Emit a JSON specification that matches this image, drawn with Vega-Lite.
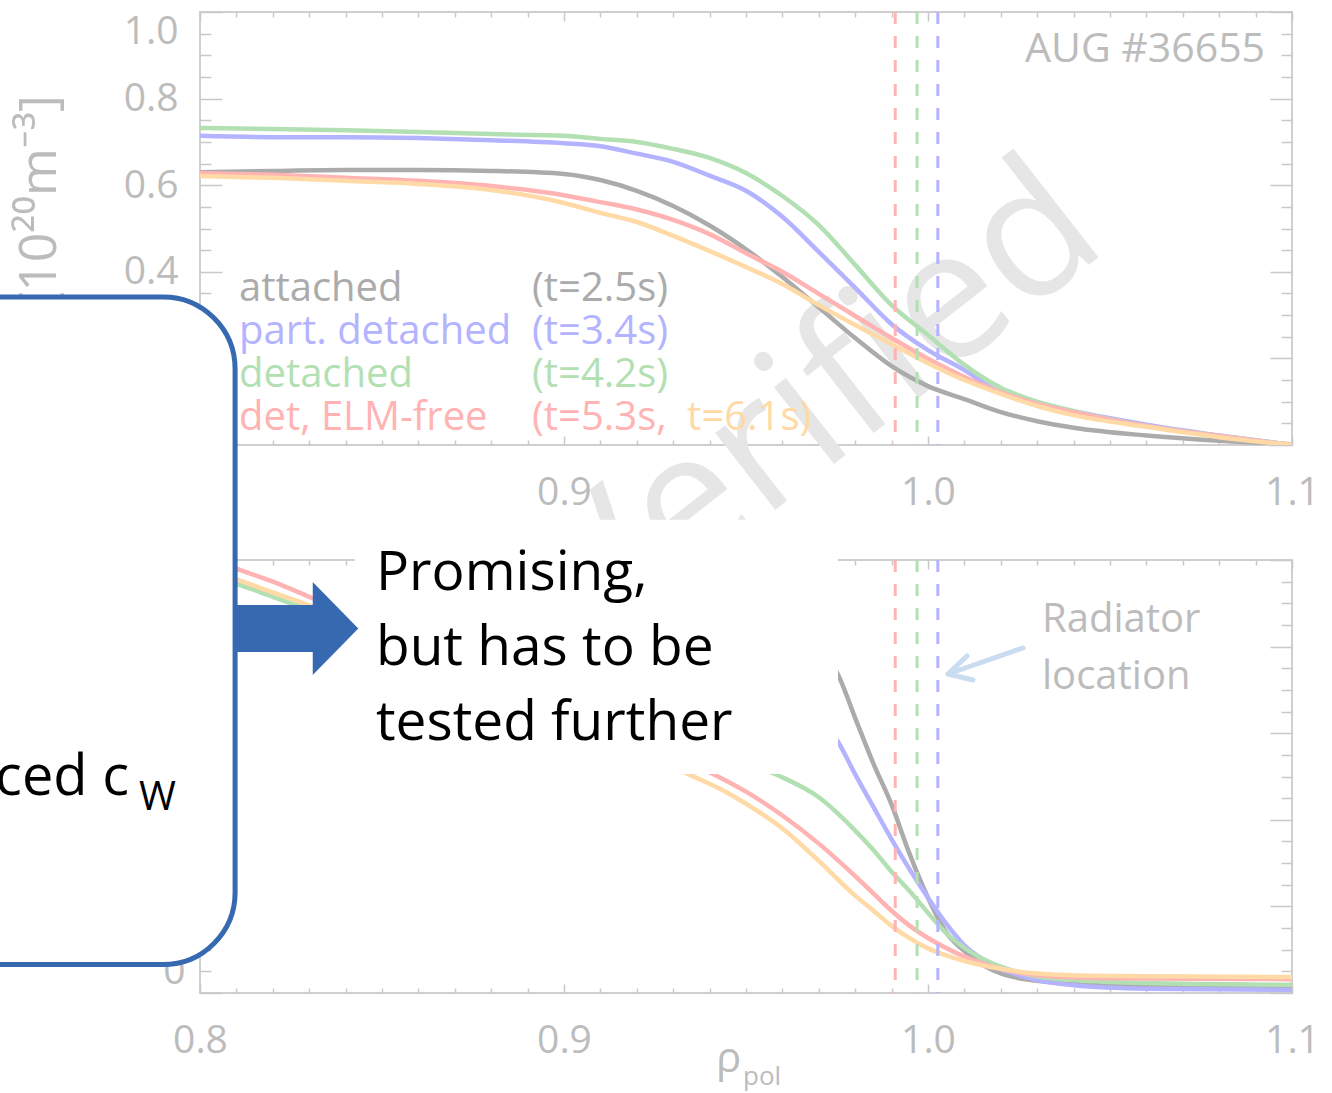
{
  "$schema": "https://vega.github.io/schema/vega-lite/v6.json",
  "autosize": {"type": "none"},
  "padding": {"left": 200, "top": 12, "right": 1132, "bottom": 1081},
  "background": "white",
  "spacing": 115,
  "bounds": "flush",
  "resolve": {"scale": {"x": "independent", "y": "independent", "color": "independent"}, "axis": {"x": "independent", "y": "independent"}},
  "config": {
    "view": {"stroke": "#cfcfcf", "strokeWidth": 2},
    "axis": {"grid": false, "domain": false, "zindex": 0, "labelFont": "Open Sans", "labelColor": "#bcbcbc", "labelFontSize": 39}
  },
  "datasets": {
    "topCurves": [
      {"s":"gray","x":0.80,"y":0.630},{"s":"gray","x":0.82,"y":0.633},{"s":"gray","x":0.84,"y":0.635},{"s":"gray","x":0.86,"y":0.635},{"s":"gray","x":0.88,"y":0.633},{"s":"gray","x":0.90,"y":0.626},{"s":"gray","x":0.91,"y":0.612},{"s":"gray","x":0.92,"y":0.587},{"s":"gray","x":0.93,"y":0.552},{"s":"gray","x":0.94,"y":0.507},{"s":"gray","x":0.95,"y":0.452},{"s":"gray","x":0.96,"y":0.388},{"s":"gray","x":0.97,"y":0.318},{"s":"gray","x":0.98,"y":0.247},{"s":"gray","x":0.99,"y":0.182},{"s":"gray","x":1.00,"y":0.136},{"s":"gray","x":1.01,"y":0.106},{"s":"gray","x":1.02,"y":0.076},{"s":"gray","x":1.03,"y":0.055},{"s":"gray","x":1.04,"y":0.040},{"s":"gray","x":1.06,"y":0.022},{"s":"gray","x":1.08,"y":0.010},{"s":"gray","x":1.10,"y":0.002},
      {"s":"blue","x":0.80,"y":0.714},{"s":"blue","x":0.82,"y":0.711},{"s":"blue","x":0.84,"y":0.711},{"s":"blue","x":0.86,"y":0.709},{"s":"blue","x":0.88,"y":0.704},{"s":"blue","x":0.90,"y":0.697},{"s":"blue","x":0.91,"y":0.690},{"s":"blue","x":0.92,"y":0.673},{"s":"blue","x":0.93,"y":0.654},{"s":"blue","x":0.94,"y":0.622},{"s":"blue","x":0.95,"y":0.587},{"s":"blue","x":0.96,"y":0.527},{"s":"blue","x":0.97,"y":0.446},{"s":"blue","x":0.98,"y":0.363},{"s":"blue","x":0.99,"y":0.279},{"s":"blue","x":1.00,"y":0.219},{"s":"blue","x":1.01,"y":0.173},{"s":"blue","x":1.02,"y":0.120},{"s":"blue","x":1.03,"y":0.097},{"s":"blue","x":1.04,"y":0.078},{"s":"blue","x":1.06,"y":0.047},{"s":"blue","x":1.08,"y":0.022},{"s":"blue","x":1.10,"y":0.000},
      {"s":"green","x":0.80,"y":0.732},{"s":"green","x":0.82,"y":0.730},{"s":"green","x":0.84,"y":0.727},{"s":"green","x":0.86,"y":0.723},{"s":"green","x":0.88,"y":0.718},{"s":"green","x":0.90,"y":0.714},{"s":"green","x":0.91,"y":0.707},{"s":"green","x":0.92,"y":0.700},{"s":"green","x":0.93,"y":0.684},{"s":"green","x":0.94,"y":0.663},{"s":"green","x":0.95,"y":0.628},{"s":"green","x":0.96,"y":0.575},{"s":"green","x":0.97,"y":0.508},{"s":"green","x":0.98,"y":0.416},{"s":"green","x":0.99,"y":0.323},{"s":"green","x":1.00,"y":0.254},{"s":"green","x":1.01,"y":0.185},{"s":"green","x":1.02,"y":0.132},{"s":"green","x":1.03,"y":0.100},{"s":"green","x":1.04,"y":0.078},{"s":"green","x":1.06,"y":0.044},{"s":"green","x":1.08,"y":0.021},{"s":"green","x":1.10,"y":0.000},
      {"s":"red","x":0.80,"y":0.628},{"s":"red","x":0.82,"y":0.624},{"s":"red","x":0.84,"y":0.617},{"s":"red","x":0.86,"y":0.610},{"s":"red","x":0.88,"y":0.598},{"s":"red","x":0.90,"y":0.577},{"s":"red","x":0.91,"y":0.561},{"s":"red","x":0.92,"y":0.544},{"s":"red","x":0.93,"y":0.520},{"s":"red","x":0.94,"y":0.487},{"s":"red","x":0.95,"y":0.443},{"s":"red","x":0.96,"y":0.400},{"s":"red","x":0.97,"y":0.349},{"s":"red","x":0.98,"y":0.298},{"s":"red","x":0.99,"y":0.247},{"s":"red","x":1.00,"y":0.199},{"s":"red","x":1.01,"y":0.157},{"s":"red","x":1.02,"y":0.122},{"s":"red","x":1.03,"y":0.095},{"s":"red","x":1.04,"y":0.076},{"s":"red","x":1.06,"y":0.044},{"s":"red","x":1.08,"y":0.021},{"s":"red","x":1.10,"y":0.000},
      {"s":"orange","x":0.80,"y":0.621},{"s":"orange","x":0.82,"y":0.617},{"s":"orange","x":0.84,"y":0.610},{"s":"orange","x":0.86,"y":0.603},{"s":"orange","x":0.88,"y":0.589},{"s":"orange","x":0.90,"y":0.559},{"s":"orange","x":0.91,"y":0.536},{"s":"orange","x":0.92,"y":0.515},{"s":"orange","x":0.93,"y":0.483},{"s":"orange","x":0.94,"y":0.448},{"s":"orange","x":0.95,"y":0.411},{"s":"orange","x":0.96,"y":0.372},{"s":"orange","x":0.97,"y":0.323},{"s":"orange","x":0.98,"y":0.277},{"s":"orange","x":0.99,"y":0.233},{"s":"orange","x":1.00,"y":0.189},{"s":"orange","x":1.01,"y":0.150},{"s":"orange","x":1.02,"y":0.118},{"s":"orange","x":1.03,"y":0.090},{"s":"orange","x":1.04,"y":0.069},{"s":"orange","x":1.06,"y":0.042},{"s":"orange","x":1.08,"y":0.018},{"s":"orange","x":1.10,"y":0.000}
    ],
    "botCurves": [
      {"s":"gray","x":0.80,"y":102},{"s":"gray","x":0.85,"y":100},{"s":"gray","x":0.90,"y":97},{"s":"gray","x":0.94,"y":90},{"s":"gray","x":0.96,"y":82},{"s":"gray","x":0.97,"y":75},{"s":"gray","x":0.9753,"y":68.5},{"s":"gray","x":0.98,"y":58.5},{"s":"gray","x":0.985,"y":48},{"s":"gray","x":0.99,"y":38.5},{"s":"gray","x":0.995,"y":27},{"s":"gray","x":1.00,"y":17},{"s":"gray","x":1.005,"y":9},{"s":"gray","x":1.01,"y":4.7},{"s":"gray","x":1.015,"y":1.5},{"s":"gray","x":1.02,"y":-0.5},{"s":"gray","x":1.03,"y":-2.2},{"s":"gray","x":1.04,"y":-2.9},{"s":"gray","x":1.06,"y":-3.4},{"s":"gray","x":1.10,"y":-3.8},
      {"s":"blue","x":0.80,"y":101},{"s":"blue","x":0.85,"y":98},{"s":"blue","x":0.90,"y":92},{"s":"blue","x":0.94,"y":78},{"s":"blue","x":0.96,"y":66},{"s":"blue","x":0.97,"y":59},{"s":"blue","x":0.9753,"y":53},{"s":"blue","x":0.98,"y":45.5},{"s":"blue","x":0.985,"y":38},{"s":"blue","x":0.99,"y":30.5},{"s":"blue","x":0.995,"y":23.5},{"s":"blue","x":1.00,"y":17},{"s":"blue","x":1.005,"y":11},{"s":"blue","x":1.01,"y":6},{"s":"blue","x":1.015,"y":2.8},{"s":"blue","x":1.02,"y":0.6},{"s":"blue","x":1.03,"y":-2.0},{"s":"blue","x":1.04,"y":-3.2},{"s":"blue","x":1.06,"y":-4.0},{"s":"blue","x":1.10,"y":-4.3},
      {"s":"green","x":0.80,"y":92},{"s":"green","x":0.81,"y":89.5},{"s":"green","x":0.82,"y":86.5},{"s":"green","x":0.83,"y":83.5},{"s":"green","x":0.84,"y":80.5},{"s":"green","x":0.86,"y":75},{"s":"green","x":0.88,"y":69},{"s":"green","x":0.90,"y":63},{"s":"green","x":0.92,"y":56},{"s":"green","x":0.94,"y":50},{"s":"green","x":0.955,"y":46.5},{"s":"green","x":0.96,"y":44.8},{"s":"green","x":0.97,"y":40.2},{"s":"green","x":0.98,"y":32.5},{"s":"green","x":0.985,"y":28},{"s":"green","x":0.99,"y":23},{"s":"green","x":0.995,"y":18.5},{"s":"green","x":1.00,"y":13.5},{"s":"green","x":1.005,"y":8.8},{"s":"green","x":1.01,"y":5.4},{"s":"green","x":1.015,"y":2.9},{"s":"green","x":1.02,"y":1.1},{"s":"green","x":1.03,"y":-1.2},{"s":"green","x":1.04,"y":-2.0},{"s":"green","x":1.06,"y":-2.7},{"s":"green","x":1.10,"y":-3.1},
      {"s":"red","x":0.80,"y":96.5},{"s":"red","x":0.81,"y":93},{"s":"red","x":0.82,"y":90},{"s":"red","x":0.83,"y":86.5},{"s":"red","x":0.84,"y":83},{"s":"red","x":0.86,"y":76},{"s":"red","x":0.88,"y":69},{"s":"red","x":0.90,"y":62},{"s":"red","x":0.92,"y":54},{"s":"red","x":0.93,"y":50},{"s":"red","x":0.94,"y":46},{"s":"red","x":0.95,"y":41.5},{"s":"red","x":0.96,"y":36},{"s":"red","x":0.97,"y":29.5},{"s":"red","x":0.98,"y":22},{"s":"red","x":0.985,"y":18},{"s":"red","x":0.99,"y":14},{"s":"red","x":0.995,"y":10.5},{"s":"red","x":1.00,"y":7.7},{"s":"red","x":1.005,"y":5.4},{"s":"red","x":1.01,"y":3.4},{"s":"red","x":1.02,"y":0.6},{"s":"red","x":1.03,"y":-0.9},{"s":"red","x":1.05,"y":-1.6},{"s":"red","x":1.10,"y":-1.8},
      {"s":"orange","x":0.80,"y":93},{"s":"orange","x":0.81,"y":90.5},{"s":"orange","x":0.82,"y":87.5},{"s":"orange","x":0.83,"y":84.5},{"s":"orange","x":0.84,"y":81},{"s":"orange","x":0.86,"y":74},{"s":"orange","x":0.88,"y":67},{"s":"orange","x":0.90,"y":59},{"s":"orange","x":0.92,"y":51},{"s":"orange","x":0.934,"y":45.6},{"s":"orange","x":0.945,"y":41.2},{"s":"orange","x":0.955,"y":36.0},{"s":"orange","x":0.96,"y":33.0},{"s":"orange","x":0.97,"y":25.5},{"s":"orange","x":0.98,"y":17.5},{"s":"orange","x":0.985,"y":14},{"s":"orange","x":0.99,"y":10.5},{"s":"orange","x":0.995,"y":7.6},{"s":"orange","x":1.00,"y":5.3},{"s":"orange","x":1.005,"y":3.7},{"s":"orange","x":1.01,"y":2.4},{"s":"orange","x":1.02,"y":0.6},{"s":"orange","x":1.03,"y":-0.5},{"s":"orange","x":1.05,"y":-1.1},{"s":"orange","x":1.10,"y":-1.3}
    ],
    "seps": [{"s":"red","x":0.991},{"s":"green","x":0.997},{"s":"blue","x":1.0027}],
    "legend": [
      {"t":"attached","s":"gray","x":0.8107,"y":0.3603},
      {"t":"(t=2.5s)","s":"gray","x":0.8912,"y":0.3603},
      {"t":"part. detached","s":"blue","x":0.8107,"y":0.2610},
      {"t":"(t=3.4s)","s":"blue","x":0.8912,"y":0.2610},
      {"t":"detached","s":"green","x":0.8107,"y":0.1617},
      {"t":"(t=4.2s)","s":"green","x":0.8912,"y":0.1617},
      {"t":"det, ELM-free","s":"red","x":0.8107,"y":0.0624},
      {"t":"(t=5.3s,","s":"red","x":0.8912,"y":0.0624},
      {"t":"t=6.1s)","s":"orange","x":0.9338,"y":0.0624}
    ],
    "wm": [{"t":"Verified","x":0.97033,"y":0.0924}],
    "aug": [{"t":"AUG #36655","x":1.0926,"y":0.9122}],
    "ytitle": [{"t":"[10²⁰m⁻³]","x":0.75604,"y":0.8083}],
    "wrects": [{"x":0.84258,"x2":0.97527,"y":84.6,"y2":104.3},{"x":0.79,"x2":0.97527,"y":45.6,"y2":84.6}],
    "box": [{"x":0.70,"x2":0.80964,"y":1.58,"y2":155.74}],
    "shaft": [{"x":0.8098,"x2":0.8343,"y":73.75,"y2":84.61}],
    "head": [{"x":0.83723,"y":79.18}],
    "promise": [{"t":"Promising,\nbut has to be\ntested further","x":0.84835,"y":92.0}],
    "uced": [{"t":"uced c","x":0.78049,"y":40.73}],
    "sub": [{"t":"W","x":0.78324,"y":37.26}],
    "radiator": [{"t":"Radiator","x":1.03132,"y":81.14},{"t":"location","x":1.03132,"y":67.98}],
    "radArrow": [
      {"g":"a","o":1,"x":1.0261,"y":74.68},{"g":"a","o":2,"x":1.00549,"y":68.67},
      {"g":"b","o":1,"x":1.01071,"y":72.83},{"g":"b","o":2,"x":1.00549,"y":68.67},{"g":"b","o":3,"x":1.01236,"y":67.29}
    ],
    "rho": [{"t":"ρ","x":0.94176,"y":-23.3}],
    "pol": [{"t":"pol","x":0.94918,"y":-26.2}]
  },
  "vconcat": [
    {
      "width": 1092,
      "height": 433,
      "resolve": {"axis": {"x": "independent", "y": "independent"}},
      "layer": [
        {
          "data": {"name": "wm"},
          "mark": {"type": "text", "font": "Open Sans", "fontSize": 182, "angle": -38, "align": "center", "baseline": "middle", "color": "#e6e6e6"},
          "encoding": {
            "x": {"field": "x", "type": "quantitative", "scale": {"domain": [0.8, 1.1], "nice": false}, "axis": null},
            "y": {"field": "y", "type": "quantitative", "scale": {"domain": [0, 1], "nice": false}, "axis": null},
            "text": {"field": "t"}
          }
        },
        {
          "data": {"name": "topCurves"},
          "mark": {"type": "line", "strokeWidth": 4.5, "interpolate": "monotone", "clip": true},
          "encoding": {
            "x": {"field": "x", "type": "quantitative", "scale": {"domain": [0.8, 1.1], "nice": false},
              "axis": {"orient": "bottom", "values": [0.8, 0.9, 1.0, 1.1], "format": ".1f", "ticks": false, "domain": false, "grid": false, "labelFlush": false, "labelPadding": 28, "labelFont": "Open Sans", "labelFontSize": 39, "labelColor": "#bcbcbc", "title": null, "zindex": 0}},
            "y": {"field": "y", "type": "quantitative", "scale": {"domain": [0, 1], "nice": false},
              "axis": {"orient": "left", "values": [0, 0.2, 0.4, 0.6, 0.8, 1.0], "format": ".1f", "ticks": false, "domain": false, "grid": false, "labelFlush": true, "labelPadding": 22, "labelFont": "Open Sans", "labelFontSize": 39, "labelColor": "#bcbcbc", "title": null, "zindex": 0}},
            "color": {"field": "s", "type": "nominal", "scale": {"domain": ["gray", "blue", "green", "red", "orange"], "range": ["#ababab", "#b3b3ff", "#b3e0b3", "#ffb3b3", "#ffd9a6"]}, "legend": null}
          }
        },
        {
          "data": {"name": "seps"},
          "mark": {"type": "rule", "strokeDash": [12, 12], "strokeWidth": 3},
          "encoding": {
            "x": {"field": "x", "type": "quantitative", "scale": {"domain": [0.8, 1.1], "nice": false}, "axis": null},
            "color": {"field": "s", "type": "nominal", "scale": {"domain": ["gray", "blue", "green", "red", "orange"], "range": ["#ababab", "#b3b3ff", "#b3e0b3", "#ffb3b3", "#ffd9a6"]}, "legend": null}
          }
        },
        {
          "data": {"name": "legend"},
          "mark": {"type": "text", "font": "Open Sans", "fontSize": 40, "align": "left", "baseline": "middle"},
          "encoding": {
            "x": {"field": "x", "type": "quantitative", "scale": {"domain": [0.8, 1.1], "nice": false},
              "axis": {"orient": "bottom", "values": [0.8,0.81,0.82,0.83,0.84,0.85,0.86,0.87,0.88,0.89,0.9,0.91,0.92,0.93,0.94,0.95,0.96,0.97,0.98,0.99,1.0,1.01,1.02,1.03,1.04,1.05,1.06,1.07,1.08,1.09,1.1], "labels": false, "domain": false, "grid": false, "tickColor": "#c8c8c8", "tickWidth": 1.5,
                "tickSize": {"condition": {"test": "abs(datum.value*10 - round(datum.value*10)) < 0.001", "value": -9}, "value": -5}, "title": null, "zindex": 0}},
            "y": {"field": "y", "type": "quantitative", "scale": {"domain": [0, 1], "nice": false},
              "axis": {"orient": "left", "values": [0,0.05,0.1,0.15,0.2,0.25,0.3,0.35,0.4,0.45,0.5,0.55,0.6,0.65,0.7,0.75,0.8,0.85,0.9,0.95,1.0], "labels": false, "domain": false, "grid": false, "tickColor": "#c8c8c8", "tickWidth": 1.5,
                "tickSize": {"condition": {"test": "abs(datum.value*5 - round(datum.value*5)) < 0.001", "value": -22}, "value": -11}, "title": null, "zindex": 0}},
            "text": {"field": "t"},
            "color": {"field": "s", "type": "nominal", "scale": {"domain": ["gray", "blue", "green", "red", "orange"], "range": ["#ababab", "#b3b3ff", "#b3e0b3", "#ffb3b3", "#ffd9a6"]}, "legend": null}
          }
        },
        {
          "data": {"name": "aug"},
          "mark": {"type": "text", "font": "Open Sans", "fontSize": 41, "align": "right", "baseline": "middle", "color": "#bcbcbc"},
          "encoding": {
            "x": {"field": "x", "type": "quantitative", "scale": {"domain": [0.8, 1.1], "nice": false},
              "axis": {"orient": "top", "values": [0.8,0.81,0.82,0.83,0.84,0.85,0.86,0.87,0.88,0.89,0.9,0.91,0.92,0.93,0.94,0.95,0.96,0.97,0.98,0.99,1.0,1.01,1.02,1.03,1.04,1.05,1.06,1.07,1.08,1.09,1.1], "labels": false, "domain": false, "grid": false, "tickColor": "#c8c8c8", "tickWidth": 1.5,
                "tickSize": {"condition": {"test": "abs(datum.value*10 - round(datum.value*10)) < 0.001", "value": -9}, "value": -5}, "title": null, "zindex": 0}},
            "y": {"field": "y", "type": "quantitative", "scale": {"domain": [0, 1], "nice": false},
              "axis": {"orient": "right", "values": [0,0.05,0.1,0.15,0.2,0.25,0.3,0.35,0.4,0.45,0.5,0.55,0.6,0.65,0.7,0.75,0.8,0.85,0.9,0.95,1.0], "labels": false, "domain": false, "grid": false, "tickColor": "#c8c8c8", "tickWidth": 1.5,
                "tickSize": {"condition": {"test": "abs(datum.value*5 - round(datum.value*5)) < 0.001", "value": -22}, "value": -11}, "title": null, "zindex": 0}},
            "text": {"field": "t"}
          }
        },
        {
          "data": {"name": "ytitle"},
          "mark": {"type": "text", "font": "Open Sans", "fontSize": 52, "angle": 270, "align": "right", "baseline": "middle", "color": "#bcbcbc"},
          "encoding": {
            "x": {"field": "x", "type": "quantitative", "scale": {"domain": [0.8, 1.1], "nice": false}, "axis": null},
            "y": {"field": "y", "type": "quantitative", "scale": {"domain": [0, 1], "nice": false}, "axis": null},
            "text": {"field": "t"}
          }
        }
      ]
    },
    {
      "width": 1092,
      "height": 433,
      "resolve": {"axis": {"x": "independent", "y": "independent"}},
      "layer": [
        {
          "data": {"name": "botCurves"},
          "mark": {"type": "line", "strokeWidth": 4.5, "interpolate": "monotone", "clip": true},
          "encoding": {
            "x": {"field": "x", "type": "quantitative", "scale": {"domain": [0.8, 1.1], "nice": false},
              "axis": {"orient": "bottom", "values": [0.8, 0.9, 1.0, 1.1], "format": ".1f", "ticks": false, "domain": false, "grid": false, "labelFlush": false, "labelPadding": 28, "labelFont": "Open Sans", "labelFontSize": 39, "labelColor": "#bcbcbc", "title": null, "zindex": 0}},
            "y": {"field": "y", "type": "quantitative", "scale": {"domain": [-5, 95], "nice": false},
              "axis": {"orient": "left", "values": [0, 20, 40, 60, 80], "ticks": false, "domain": false, "grid": false, "labelFlush": false, "labelPadding": 15, "labelFont": "Open Sans", "labelFontSize": 39, "labelColor": "#bcbcbc", "title": null, "zindex": 0}},
            "color": {"field": "s", "type": "nominal", "scale": {"domain": ["gray", "blue", "green", "red", "orange"], "range": ["#ababab", "#b3b3ff", "#b3e0b3", "#ffb3b3", "#ffd9a6"]}, "legend": null}
          }
        },
        {
          "data": {"name": "seps"},
          "mark": {"type": "rule", "strokeDash": [12, 12], "strokeWidth": 3},
          "encoding": {
            "x": {"field": "x", "type": "quantitative", "scale": {"domain": [0.8, 1.1], "nice": false}, "axis": null},
            "color": {"field": "s", "type": "nominal", "scale": {"domain": ["gray", "blue", "green", "red", "orange"], "range": ["#ababab", "#b3b3ff", "#b3e0b3", "#ffb3b3", "#ffd9a6"]}, "legend": null}
          }
        },
        {
          "data": {"name": "wrects"},
          "mark": {"type": "rect", "color": "white", "opacity": 1, "clip": false},
          "encoding": {
            "x": {"field": "x", "type": "quantitative", "scale": {"domain": [0.8, 1.1], "nice": false}, "axis": null},
            "x2": {"field": "x2"},
            "y": {"field": "y", "type": "quantitative", "scale": {"domain": [-5, 95], "nice": false}, "axis": null},
            "y2": {"field": "y2"}
          }
        },
        {
          "data": {"name": "box"},
          "mark": {"type": "rect", "fill": "white", "stroke": "#3669b0", "strokeWidth": 5, "cornerRadius": 72, "opacity": 1, "clip": false},
          "encoding": {
            "x": {"field": "x", "type": "quantitative", "scale": {"domain": [0.8, 1.1], "nice": false}, "axis": null},
            "x2": {"field": "x2"},
            "y": {"field": "y", "type": "quantitative", "scale": {"domain": [-5, 95], "nice": false}, "axis": null},
            "y2": {"field": "y2"}
          }
        },
        {
          "data": {"name": "shaft"},
          "mark": {"type": "rect", "color": "#3669b0", "opacity": 1, "clip": false},
          "encoding": {
            "x": {"field": "x", "type": "quantitative", "scale": {"domain": [0.8, 1.1], "nice": false}, "axis": null},
            "x2": {"field": "x2"},
            "y": {"field": "y", "type": "quantitative", "scale": {"domain": [-5, 95], "nice": false}, "axis": null},
            "y2": {"field": "y2"}
          }
        },
        {
          "data": {"name": "head"},
          "mark": {"type": "point", "shape": "M-0.49,-1L0.49,0L-0.49,1Z", "size": 8649, "filled": true, "color": "#3669b0", "opacity": 1, "strokeWidth": 0, "clip": false},
          "encoding": {
            "x": {"field": "x", "type": "quantitative", "scale": {"domain": [0.8, 1.1], "nice": false}, "axis": null},
            "y": {"field": "y", "type": "quantitative", "scale": {"domain": [-5, 95], "nice": false}, "axis": null}
          }
        },
        {
          "data": {"name": "promise"},
          "mark": {"type": "text", "font": "Open Sans", "fontSize": 55, "align": "left", "baseline": "middle", "lineBreak": "\n", "lineHeight": 75, "color": "#000000", "clip": false},
          "encoding": {
            "x": {"field": "x", "type": "quantitative", "scale": {"domain": [0.8, 1.1], "nice": false}, "axis": null},
            "y": {"field": "y", "type": "quantitative", "scale": {"domain": [-5, 95], "nice": false}, "axis": null},
            "text": {"field": "t"}
          }
        },
        {
          "data": {"name": "uced"},
          "mark": {"type": "text", "font": "Open Sans", "fontSize": 56, "align": "right", "baseline": "alphabetic", "color": "#000000", "clip": false},
          "encoding": {
            "x": {"field": "x", "type": "quantitative", "scale": {"domain": [0.8, 1.1], "nice": false}, "axis": null},
            "y": {"field": "y", "type": "quantitative", "scale": {"domain": [-5, 95], "nice": false}, "axis": null},
            "text": {"field": "t"}
          }
        },
        {
          "data": {"name": "sub"},
          "mark": {"type": "text", "font": "Open Sans", "fontSize": 40, "align": "left", "baseline": "alphabetic", "color": "#000000", "clip": false},
          "encoding": {
            "x": {"field": "x", "type": "quantitative", "scale": {"domain": [0.8, 1.1], "nice": false}, "axis": null},
            "y": {"field": "y", "type": "quantitative", "scale": {"domain": [-5, 95], "nice": false}, "axis": null},
            "text": {"field": "t"}
          }
        },
        {
          "data": {"name": "radiator"},
          "mark": {"type": "text", "font": "Open Sans", "fontSize": 40, "align": "left", "baseline": "middle", "color": "#bcbcbc", "clip": false},
          "encoding": {
            "x": {"field": "x", "type": "quantitative", "scale": {"domain": [0.8, 1.1], "nice": false},
              "axis": {"orient": "bottom", "values": [0.8,0.81,0.82,0.83,0.84,0.85,0.86,0.87,0.88,0.89,0.9,0.91,0.92,0.93,0.94,0.95,0.96,0.97,0.98,0.99,1.0,1.01,1.02,1.03,1.04,1.05,1.06,1.07,1.08,1.09,1.1], "labels": false, "domain": false, "grid": false, "tickColor": "#c8c8c8", "tickWidth": 1.5,
                "tickSize": {"condition": {"test": "abs(datum.value*10 - round(datum.value*10)) < 0.001", "value": -9}, "value": -5}, "title": null, "zindex": 0}},
            "y": {"field": "y", "type": "quantitative", "scale": {"domain": [-5, 95], "nice": false},
              "axis": {"orient": "left", "values": [-5,0,5,10,15,20,25,30,35,40,45,50,55,60,65,70,75,80,85,90,95], "labels": false, "domain": false, "grid": false, "tickColor": "#c8c8c8", "tickWidth": 1.5,
                "tickSize": {"condition": {"test": "abs((datum.value+5)/20 - round((datum.value+5)/20)) < 0.001", "value": -22}, "value": -11}, "title": null, "zindex": 0}},
            "text": {"field": "t"}
          }
        },
        {
          "data": {"name": "radArrow"},
          "mark": {"type": "line", "color": "#c9dcf0", "strokeWidth": 5, "strokeCap": "round", "strokeJoin": "round", "clip": false},
          "encoding": {
            "x": {"field": "x", "type": "quantitative", "scale": {"domain": [0.8, 1.1], "nice": false}, "axis": null},
            "y": {"field": "y", "type": "quantitative", "scale": {"domain": [-5, 95], "nice": false}, "axis": null},
            "detail": {"field": "g"},
            "order": {"field": "o"}
          }
        },
        {
          "data": {"name": "rho"},
          "mark": {"type": "text", "font": "Open Sans", "fontSize": 42, "align": "left", "baseline": "alphabetic", "color": "#bcbcbc", "clip": false},
          "encoding": {
            "x": {"field": "x", "type": "quantitative", "scale": {"domain": [0.8, 1.1], "nice": false},
              "axis": {"orient": "top", "values": [0.8,0.81,0.82,0.83,0.84,0.85,0.86,0.87,0.88,0.89,0.9,0.91,0.92,0.93,0.94,0.95,0.96,0.97,0.98,0.99,1.0,1.01,1.02,1.03,1.04,1.05,1.06,1.07,1.08,1.09,1.1], "labels": false, "domain": false, "grid": false, "tickColor": "#c8c8c8", "tickWidth": 1.5,
                "tickSize": {"condition": {"test": "abs(datum.value*10 - round(datum.value*10)) < 0.001", "value": -9}, "value": -5}, "title": null, "zindex": 0}},
            "y": {"field": "y", "type": "quantitative", "scale": {"domain": [-5, 95], "nice": false},
              "axis": {"orient": "right", "values": [-5,0,5,10,15,20,25,30,35,40,45,50,55,60,65,70,75,80,85,90,95], "labels": false, "domain": false, "grid": false, "tickColor": "#c8c8c8", "tickWidth": 1.5,
                "tickSize": {"condition": {"test": "abs((datum.value+5)/20 - round((datum.value+5)/20)) < 0.001", "value": -22}, "value": -11}, "title": null, "zindex": 0}},
            "text": {"field": "t"}
          }
        },
        {
          "data": {"name": "pol"},
          "mark": {"type": "text", "font": "Open Sans", "fontSize": 26, "align": "left", "baseline": "alphabetic", "color": "#bcbcbc", "clip": false},
          "encoding": {
            "x": {"field": "x", "type": "quantitative", "scale": {"domain": [0.8, 1.1], "nice": false}, "axis": null},
            "y": {"field": "y", "type": "quantitative", "scale": {"domain": [-5, 95], "nice": false}, "axis": null},
            "text": {"field": "t"}
          }
        }
      ]
    }
  ]
}
